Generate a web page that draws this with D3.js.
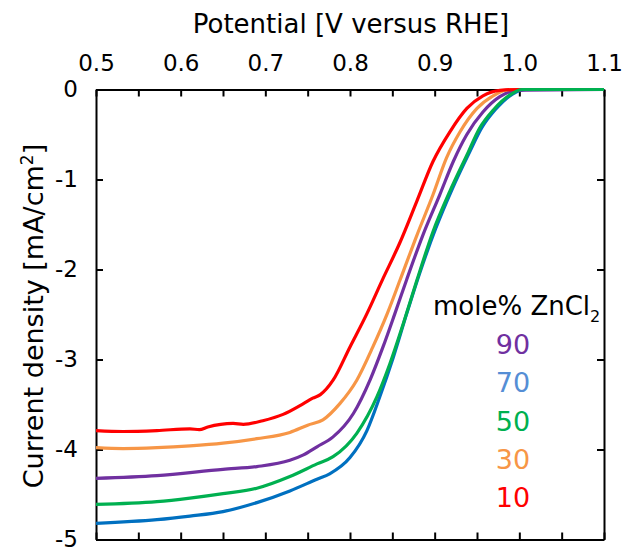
<!DOCTYPE html>
<html>
<head>
<meta charset="utf-8">
<script src="https://cdn.jsdelivr.net/npm/d3@7"></script>
<style>
  body { margin: 0; background: #fff; }
  text { font-family: "DejaVu Sans", sans-serif; }
</style>
</head>
<body>
<svg id="chart" width="625" height="548"></svg>
<script>
// potential (V vs RHE) and current density (mA/cm2) per series
var series = ["90", "70", "50", "30", "10"];
var colors = { "90": "#7030a0", "70": "#0070c0", "50": "#00b050", "30": "#f79646", "10": "#ff0000" };
var labelColors = { "90": "#7030a0", "70": "#558ed5", "50": "#00b050", "30": "#f79646", "10": "#ff0000" };

var v10 = [0.50, 0.532, 0.572, 0.611, 0.622, 0.632, 0.662, 0.674, 0.697, 0.721, 0.745, 0.756, 0.765, 0.780, 0.800, 0.820, 0.838, 0.859, 0.879, 0.898, 0.918, 0.938, 0.957, 0.977, 1.0, 1.1];
var j10 = [-3.79, -3.80, -3.79, -3.77, -3.78, -3.75, -3.71, -3.72, -3.68, -3.61, -3.49, -3.43, -3.39, -3.23, -2.86, -2.49, -2.12, -1.70, -1.24, -0.80, -0.47, -0.21, -0.07, -0.01, 0, 0];

var v30 = [0.50, 0.532, 0.572, 0.611, 0.650, 0.690, 0.729, 0.750, 0.768, 0.788, 0.808, 0.827, 0.844, 0.859, 0.879, 0.898, 0.914, 0.930, 0.950, 0.969, 0.989, 1.1];
var j30 = [-3.98, -3.99, -3.98, -3.96, -3.93, -3.88, -3.81, -3.73, -3.67, -3.49, -3.23, -2.86, -2.49, -2.12, -1.62, -1.17, -0.76, -0.47, -0.21, -0.07, 0, 0];

var v90 = [0.50, 0.572, 0.650, 0.690, 0.729, 0.745, 0.761, 0.780, 0.804, 0.824, 0.839, 0.853, 0.867, 0.886, 0.906, 0.922, 0.938, 0.957, 0.977, 0.997, 1.1];
var j90 = [-4.32, -4.29, -4.22, -4.19, -4.12, -4.06, -3.97, -3.86, -3.60, -3.22, -2.86, -2.49, -2.11, -1.62, -1.17, -0.80, -0.50, -0.25, -0.08, -0.01, 0];

var v50 = [0.50, 0.572, 0.611, 0.650, 0.690, 0.729, 0.761, 0.780, 0.808, 0.832, 0.847, 0.863, 0.879, 0.898, 0.918, 0.938, 0.953, 0.969, 0.989, 1.003, 1.1];
var j50 = [-4.61, -4.58, -4.54, -4.49, -4.43, -4.30, -4.16, -4.08, -3.82, -3.41, -3.05, -2.60, -2.12, -1.58, -1.13, -0.73, -0.43, -0.23, -0.06, 0, 0];

var v70 = [0.50, 0.572, 0.611, 0.650, 0.690, 0.729, 0.761, 0.776, 0.800, 0.820, 0.835, 0.851, 0.867, 0.882, 0.901, 0.921, 0.941, 0.956, 0.972, 0.992, 1.008, 1.1];
var j70 = [-4.82, -4.78, -4.74, -4.69, -4.59, -4.46, -4.33, -4.27, -4.09, -3.79, -3.42, -2.98, -2.49, -2.05, -1.55, -1.10, -0.70, -0.42, -0.22, -0.05, 0, 0];

var xTicks = [0.5, 0.55, 0.6, 0.65, 0.7, 0.75, 0.8, 0.85, 0.9, 0.95, 1.0, 1.05, 1.1];
var xLabels = ["0.5", "0.6", "0.7", "0.8", "0.9", "1.0", "1.1"];
var yTicks = [0, -1, -2, -3, -4, -5];

var curves = {
  "10": d3.zip(v10, j10), "30": d3.zip(v30, j30), "90": d3.zip(v90, j90),
  "50": d3.zip(v50, j50), "70": d3.zip(v70, j70)
};
var drawOrder = ["70", "90", "30", "10", "50"];

var svg = d3.select("#chart");
var x = d3.scaleLinear().domain([0.5, 1.1]).range([96, 604]);
var y = d3.scaleLinear().domain([0, -5]).range([89.5, 539.5]);

// top axis carries the labels, the other three only inward ticks
svg.append("g")
  .attr("transform", "translate(0," + y(0) + ")")
  .call(d3.axisTop(x).tickValues(xTicks).tickSizeInner(-7).tickSizeOuter(0).tickPadding(19)
    .tickFormat(function (d) {
      var s = d3.format(".1f")(d);
      return Math.abs(d * 10 - Math.round(d * 10)) < 1e-6 && xLabels.indexOf(s) >= 0 ? s : "";
    }))
  .call(styleAxis);

svg.append("g")
  .attr("transform", "translate(0," + y(-5) + ")")
  .call(d3.axisBottom(x).tickValues(xTicks).tickSizeInner(-7).tickSizeOuter(0).tickFormat(""))
  .call(styleAxis);

svg.append("g")
  .attr("transform", "translate(" + x(0.5) + ",0)")
  .call(d3.axisLeft(y).tickValues(yTicks).tickSizeInner(-7).tickSizeOuter(0).tickPadding(18)
    .tickFormat(function (d) { return d === 0 ? "0" : "-" + Math.abs(d); }))
  .call(styleAxis);

svg.append("g")
  .attr("transform", "translate(" + x(1.1) + ",0)")
  .call(d3.axisRight(y).tickValues(yTicks).tickSizeInner(-7).tickSizeOuter(0).tickFormat(""))
  .call(styleAxis);

function styleAxis(g) {
  g.select(".domain").attr("stroke", "#000").attr("stroke-width", 2);
  g.selectAll(".tick line").attr("stroke", "#000").attr("stroke-width", 2);
  g.selectAll(".tick text").attr("fill", "#000").style("font-size", "23px")
    .style("font-family", "'DejaVu Sans', sans-serif");
}

var line = d3.line()
  .x(function (d) { return x(d[0]); })
  .y(function (d) { return y(d[1]); })
  .curve(d3.curveMonotoneX);

svg.append("g").selectAll("path")
  .data(drawOrder)
  .join("path")
  .attr("d", function (k) { return line(curves[k]); })
  .attr("fill", "none")
  .attr("stroke", function (k) { return colors[k]; })
  .attr("stroke-width", 3.2)
  .attr("stroke-linejoin", "round");

// axis titles
svg.append("text")
  .attr("x", 351).attr("y", 33)
  .attr("text-anchor", "middle")
  .style("font-size", "26px")
  .text("Potential [V versus RHE]");

var yt = svg.append("text")
  .attr("transform", "translate(43,316) rotate(-90)")
  .attr("text-anchor", "middle")
  .style("font-size", "27px");
yt.append("tspan").text("Current density [mA/cm");
yt.append("tspan").attr("dy", -10).style("font-size", "17px").text("2");
yt.append("tspan").attr("dy", 10).text("]");

// legend
var lt = svg.append("text")
  .attr("x", 433).attr("y", 315)
  .style("font-size", "26px");
lt.append("tspan").text("mole% ZnCl");
lt.append("tspan").attr("dy", 7).style("font-size", "16px").text("2");

svg.append("g").selectAll("text")
  .data(series)
  .join("text")
  .attr("x", 513)
  .attr("y", function (d, i) { return 354 + i * 38.3; })
  .attr("text-anchor", "middle")
  .style("font-size", "27px")
  .attr("fill", function (d) { return labelColors[d]; })
  .text(function (d) { return d; });
</script>
</body>
</html>
